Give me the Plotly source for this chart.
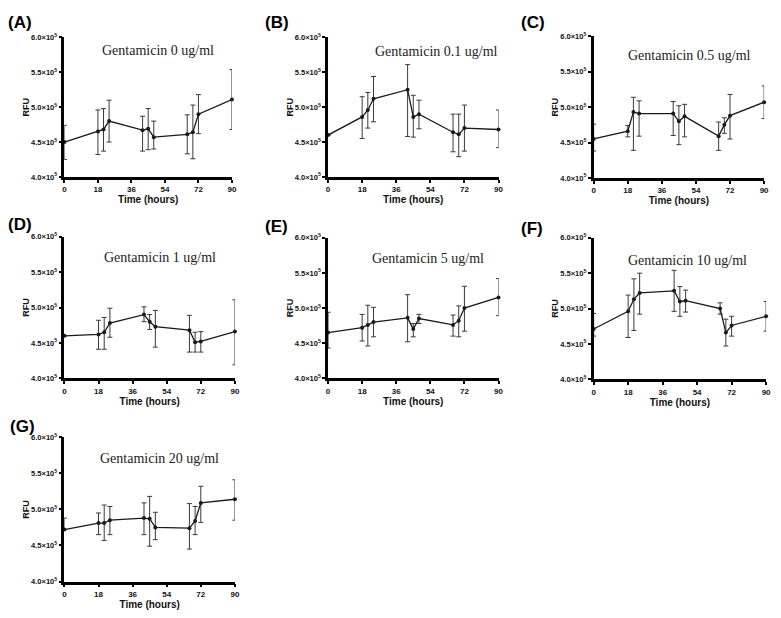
import plotly.graph_objects as go

# ---------------- data ----------------
time_h = [0, 18, 21, 24, 42, 45, 48, 66, 69, 72, 90]

panel_letters = ["(A)", "(B)", "(C)", "(D)", "(E)", "(F)", "(G)"]
panel_titles = ["Gentamicin 0 ug/ml", "Gentamicin 0.1 ug/ml", "Gentamicin 0.5 ug/ml",
                "Gentamicin 1 ug/ml", "Gentamicin 5 ug/ml", "Gentamicin 10 ug/ml",
                "Gentamicin 20 ug/ml"]

# mean RFU, upper and lower error bar ends (RFU)
rfu_A = [4.50e5, 4.65e5, 4.68e5, 4.80e5, 4.67e5, 4.69e5, 4.57e5, 4.61e5, 4.64e5, 4.90e5, 5.11e5]
up_A  = [4.74e5, 4.96e5, 4.98e5, 5.10e5, 4.87e5, 4.98e5, 4.80e5, 4.89e5, 5.03e5, 5.18e5, 5.54e5]
lo_A  = [4.25e5, 4.32e5, 4.37e5, 4.50e5, 4.37e5, 4.39e5, 4.40e5, 4.33e5, 4.26e5, 4.62e5, 4.68e5]

rfu_B = [4.60e5, 4.86e5, 4.96e5, 5.12e5, 5.25e5, 4.86e5, 4.90e5, 4.64e5, 4.61e5, 4.70e5, 4.68e5]
up_B  = [4.60e5, 5.15e5, 5.21e5, 5.44e5, 5.61e5, 5.17e5, 5.10e5, 4.90e5, 4.90e5, 5.03e5, 4.96e5]
lo_B  = [4.60e5, 4.55e5, 4.70e5, 4.79e5, 4.58e5, 4.57e5, 4.69e5, 4.36e5, 4.29e5, 4.37e5, 4.42e5]

rfu_C = [4.55e5, 4.66e5, 4.93e5, 4.91e5, 4.91e5, 4.80e5, 4.87e5, 4.59e5, 4.75e5, 4.88e5, 5.07e5]
up_C  = [4.76e5, 4.74e5, 5.14e5, 5.09e5, 5.08e5, 5.02e5, 5.04e5, 4.79e5, 4.85e5, 5.18e5, 5.30e5]
lo_C  = [4.38e5, 4.58e5, 4.39e5, 4.59e5, 4.60e5, 4.47e5, 4.58e5, 4.39e5, 4.63e5, 4.55e5, 4.84e5]

rfu_D = [4.60e5, 4.62e5, 4.65e5, 4.78e5, 4.90e5, 4.80e5, 4.73e5, 4.68e5, 4.51e5, 4.52e5, 4.66e5]
up_D  = [4.60e5, 4.82e5, 4.86e5, 4.99e5, 5.01e5, 4.90e5, 4.96e5, 4.89e5, 4.65e5, 4.66e5, 5.11e5]
lo_D  = [4.60e5, 4.41e5, 4.41e5, 4.58e5, 4.80e5, 4.69e5, 4.44e5, 4.37e5, 4.37e5, 4.37e5, 4.19e5]

rfu_E = [4.65e5, 4.72e5, 4.76e5, 4.80e5, 4.86e5, 4.70e5, 4.85e5, 4.76e5, 4.82e5, 5.00e5, 5.15e5]
up_E  = [4.94e5, 4.91e5, 5.04e5, 5.01e5, 5.19e5, 4.78e5, 4.91e5, 4.90e5, 5.03e5, 5.31e5, 5.42e5]
lo_E  = [4.43e5, 4.53e5, 4.46e5, 4.59e5, 4.52e5, 4.59e5, 4.78e5, 4.60e5, 4.59e5, 4.67e5, 4.89e5]

rfu_F = [4.71e5, 4.96e5, 5.13e5, 5.22e5, 5.25e5, 5.10e5, 5.11e5, 5.00e5, 4.66e5, 4.76e5, 4.89e5]
up_F  = [4.93e5, 5.19e5, 5.42e5, 5.50e5, 5.54e5, 5.31e5, 5.26e5, 5.08e5, 4.85e5, 4.89e5, 5.10e5]
lo_F  = [4.61e5, 4.59e5, 4.69e5, 4.92e5, 4.96e5, 4.89e5, 4.95e5, 4.92e5, 4.47e5, 4.61e5, 4.68e5]

rfu_G = [4.72e5, 4.81e5, 4.81e5, 4.85e5, 4.88e5, 4.87e5, 4.75e5, 4.74e5, 4.84e5, 5.09e5, 5.14e5]
up_G  = [4.88e5, 4.95e5, 5.06e5, 5.04e5, 5.09e5, 5.18e5, 4.96e5, 5.08e5, 5.04e5, 5.32e5, 5.41e5]
lo_G  = [4.72e5, 4.65e5, 4.57e5, 4.65e5, 4.65e5, 4.49e5, 4.58e5, 4.45e5, 4.65e5, 4.82e5, 4.85e5]

x_ticks = [0, 18, 36, 54, 72, 90]
y_ticks = [4.0e5, 4.5e5, 5.0e5, 5.5e5, 6.0e5]
y_ticktext = ["4.0×10<sup>5</sup>", "4.5×10<sup>5</sup>", "5.0×10<sup>5</sup>",
              "5.5×10<sup>5</sup>", "6.0×10<sup>5</sup>"]

series = [(rfu_A, up_A, lo_A), (rfu_B, up_B, lo_B), (rfu_C, up_C, lo_C),
          (rfu_D, up_D, lo_D), (rfu_E, up_E, lo_E), (rfu_F, up_F, lo_F),
          (rfu_G, up_G, lo_G)]

# ---------------- layout geometry (pixels) ----------------
W, H = 781, 618
# (left, right, top, bottom) of each plot area in pixels
boxes = [(63, 232, 32, 174), (329, 501, 32, 174), (597, 769, 31, 175),
         (63, 235, 235, 379), (329, 501, 236, 379), (597, 771, 236, 380),
         (63, 235, 439, 586)]
letter_pos = [(4, 17), (263, 17), (522, 17), (4, 222), (263, 225), (522, 227), (6, 428)]
title_pos = [(157, 45), (438, 46), (694, 50), (159, 256), (430, 257), (692, 259), (159, 461)]

fig = go.Figure()
layout = dict(width=W, height=H, margin=dict(l=0, r=0, t=0, b=0),
              paper_bgcolor="white", plot_bgcolor="white", showlegend=False,
              annotations=[])

for i, ((mean, up, lo), box) in enumerate(zip(series, boxes)):
    n = i + 1
    xa = "x" if n == 1 else f"x{n}"
    ya = "y" if n == 1 else f"y{n}"
    err_plus = [u - m for u, m in zip(up, mean)]
    err_minus = [m - l for m, l in zip(mean, lo)]
    fig.add_trace(go.Scatter(
        x=time_h, y=mean, xaxis=xa, yaxis=ya, mode="lines+markers",
        line=dict(color="#1a1a1a", width=1.3),
        marker=dict(color="#1a1a1a", size=4),
        error_y=dict(type="data", symmetric=False, array=err_plus, arrayminus=err_minus,
                     color="#3a3a3a", thickness=1, width=2.5),
        cliponaxis=False))
    l, r, t, b = box
    axis_common = dict(showline=True, linecolor="black", linewidth=2.5, mirror=False,
                       showgrid=False, zeroline=False, ticks="outside", ticklen=3,
                       tickwidth=1.5, tickcolor="black",
                       tickfont=dict(family="Liberation Sans, Arial", size=8, color="#111",
                                     weight="bold"))
    layout["xaxis" if n == 1 else f"xaxis{n}"] = dict(
        axis_common, domain=[l / W, r / W], anchor=ya, range=[0, 90],
        tickvals=x_ticks, ticktext=[str(v) for v in x_ticks],
        title=dict(text="Time (hours)", standoff=0,
                   font=dict(family="Liberation Sans, Arial", size=10, color="#111",
                             weight="bold")))
    layout["yaxis" if n == 1 else f"yaxis{n}"] = dict(
        axis_common, domain=[1 - b / H, 1 - t / H], anchor=xa, range=[4.0e5, 6.0e5],
        tickvals=y_ticks, ticktext=y_ticktext,
        tickfont=dict(family="Liberation Sans, Arial", size=7.5, color="#111", weight="bold"),
        title=dict(text="RFU", standoff=0,
                   font=dict(family="Liberation Sans, Arial", size=9, color="#111",
                             weight="bold")))
    lx, ly = letter_pos[i]
    layout["annotations"].append(dict(
        text=panel_letters[i], x=lx / W, y=1 - ly / H, xref="paper", yref="paper",
        xanchor="left", yanchor="middle", showarrow=False,
        font=dict(family="Liberation Sans, Arial", size=17, color="black", weight="bold")))
    tx, ty = title_pos[i]
    layout["annotations"].append(dict(
        text=panel_titles[i], x=tx / W, y=1 - ty / H, xref="paper", yref="paper",
        xanchor="center", yanchor="middle", showarrow=False,
        font=dict(family="Liberation Serif, Times New Roman, serif", size=14, color="#222")))

fig.update_layout(**layout)
fig.write_html("out.html", config={"displayModeBar": False},
               post_script="document.body.style.margin='0';document.body.style.padding='0';")
